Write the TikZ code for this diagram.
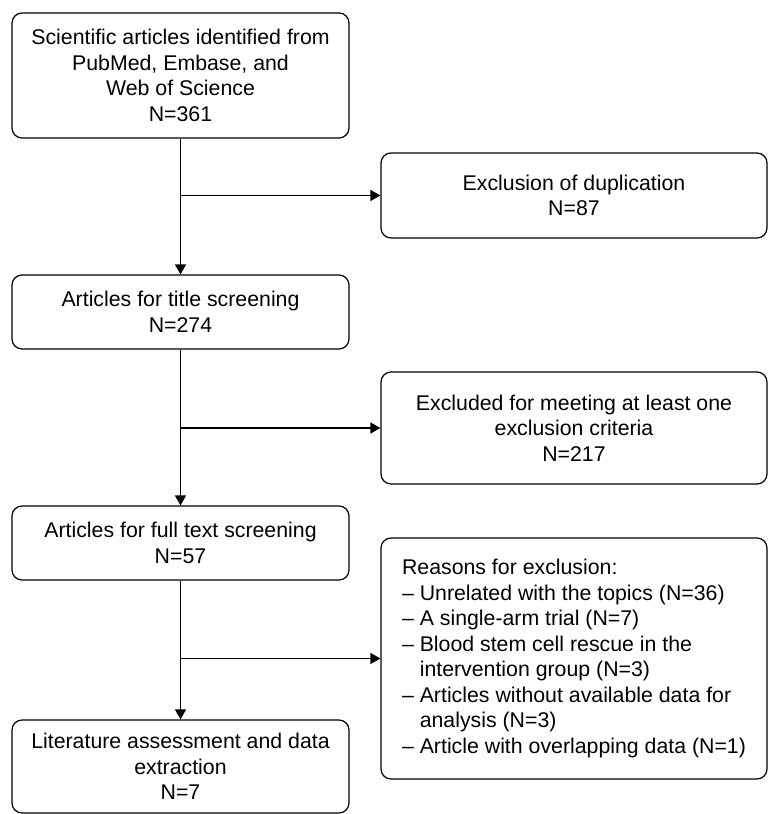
\documentclass[tikz,border=0pt]{standalone}
\usepackage{fontspec}
\setmainfont{Liberation Sans}
\usetikzlibrary{arrows.meta,positioning}

\begin{document}
\begin{tikzpicture}[x=1pt,y=-1pt,
    box/.style={draw,line width=1.2pt,rounded corners=10pt,inner sep=0pt,align=center,
      font=\fontsize{21.3}{25.5}\selectfont},
    arr/.style={line width=1.2pt,-{Triangle[length=10pt,width=11pt]}}]
    \useasboundingbox (0,0) rectangle (768,814);
    % main column
    \foreach \n/\yc/\h/\t in {
      m1/75.5/125pt/{Scientific articles identified from\\PubMed, Embase, and\\Web of Science\\N=361},
      m2/312/74pt/{Articles for title screening\\N=274},
      m3/543/74pt/{Articles for full text screening\\N=57},
      m4/766.5/93pt/{Literature assessment and data\\extraction\\N=7}}
    {
      \node[box,minimum width=337pt,minimum height=\h] (\n) at (180.5,\yc) {\t};
    }
    % exclusions
    \node[box,minimum width=386pt,minimum height=85pt] (s1) at (574,195.5) {Exclusion of duplication\\N=87};
    \node[box,minimum width=386pt,minimum height=112pt] (s2) at (574,428) {Excluded for meeting at least one\\exclusion criteria\\N=217};
    \node[box,align=left,minimum width=386pt,minimum height=241pt] (s3) at (574,658.5) {Reasons for exclusion:\\
      – Unrelated with the topics (N=36)\\
      – A single-arm trial (N=7)\\
      – Blood stem cell rescue in the\\
      \hphantom{–\ }intervention group (N=3)\\
      – Articles without available data for\\
      \hphantom{–\ }analysis (N=3)\\
      – Article with overlapping data (N=1)};

    \draw[arr] (m1) -- (m2);
    \draw[arr] (m2) -- (m3);
    \draw[arr] (m3) -- (m4);
    \draw[arr] (m1.south |- s1.west) -- (s1.west);
    \draw[arr] (m2.south |- s2.west) -- (s2.west);
    \draw[arr] (m3.south |- s3.west) -- (s3.west);
\end{tikzpicture}
\end{document}
